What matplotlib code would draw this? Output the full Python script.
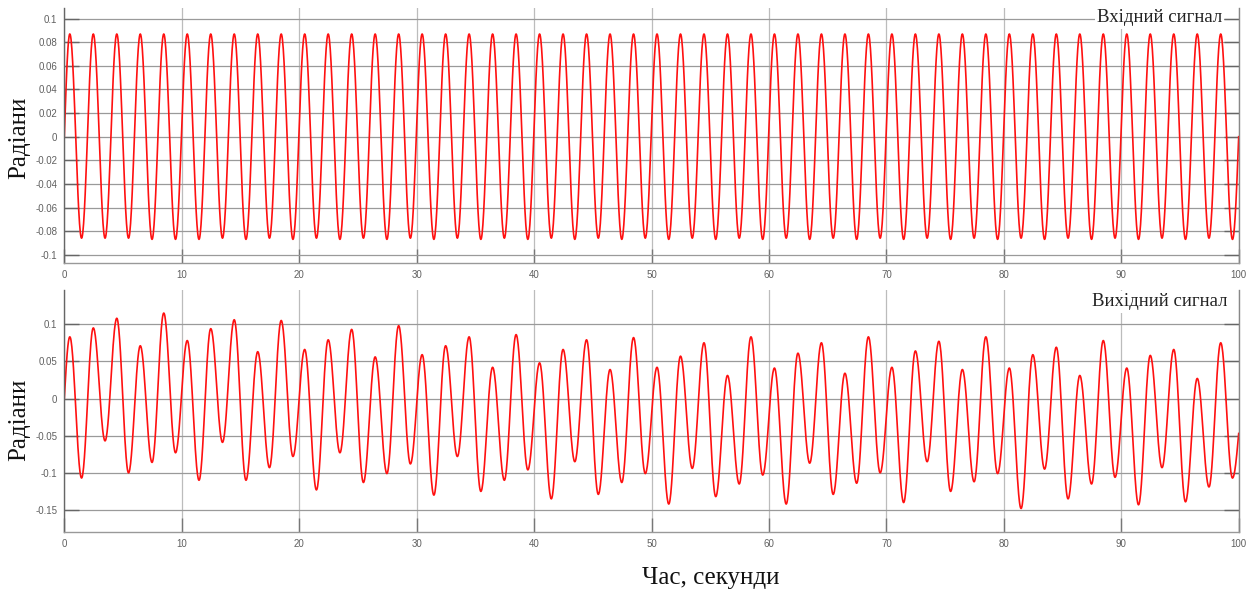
import numpy as np
import matplotlib
matplotlib.use("Agg")
import matplotlib.pyplot as plt

# ---------------- data ----------------
t_start, t_stop = 0.0, 100.0
# one extremum every half period (period 2 s), first one near 0.47 s
ext_times = np.arange(100) + 0.47

# input signal ("Вхідний сигнал"): alternating peak / trough values
top_peaks = [0.087, 0.087, 0.087, 0.087, 0.087, 0.087, 0.087, 0.087, 0.087, 0.087,
             0.087, 0.087, 0.087, 0.087, 0.087, 0.087, 0.087, 0.087, 0.087, 0.087,
             0.087, 0.087, 0.087, 0.087, 0.087, 0.087, 0.087, 0.087, 0.087, 0.087,
             0.087, 0.087, 0.087, 0.087, 0.087, 0.087, 0.087, 0.087, 0.087, 0.087,
             0.087, 0.087, 0.087, 0.087, 0.087, 0.087, 0.087, 0.087, 0.087, 0.087]
top_troughs = [-0.086, -0.086, -0.086, -0.087, -0.087, -0.087, -0.086, -0.087, -0.086, -0.087,
               -0.086, -0.087, -0.086, -0.087, -0.086, -0.087, -0.086, -0.087, -0.086, -0.087,
               -0.086, -0.087, -0.086, -0.087, -0.086, -0.087, -0.086, -0.087, -0.086, -0.087,
               -0.086, -0.087, -0.086, -0.087, -0.086, -0.087, -0.086, -0.087, -0.086, -0.087,
               -0.086, -0.087, -0.086, -0.087, -0.086, -0.087, -0.086, -0.087, -0.086, -0.087]
top_start, top_end = 0.0, 0.0

# output signal ("Вихідний сигнал"): successive extrema
bottom_extrema = [
    0.083, -0.107, 0.095, -0.057, 0.108, -0.100, 0.071, -0.086, 0.115, -0.073,
    0.078, -0.110, 0.094, -0.059, 0.106, -0.110, 0.063, -0.093, 0.105, -0.078,
    0.066, -0.123, 0.079, -0.073, 0.093, -0.113, 0.056, -0.101, 0.098, -0.088,
    0.059, -0.130, 0.071, -0.078, 0.083, -0.125, 0.042, -0.110, 0.086, -0.096,
    0.048, -0.135, 0.066, -0.085, 0.079, -0.129, 0.039, -0.113, 0.082, -0.101,
    0.042, -0.142, 0.057, -0.094, 0.075, -0.132, 0.031, -0.115, 0.083, -0.103,
    0.041, -0.142, 0.061, -0.087, 0.075, -0.129, 0.034, -0.114, 0.083, -0.100,
    0.042, -0.140, 0.064, -0.085, 0.077, -0.125, 0.039, -0.112, 0.083, -0.101,
    0.041, -0.148, 0.059, -0.095, 0.069, -0.135, 0.031, -0.115, 0.078, -0.106,
    0.041, -0.143, 0.058, -0.093, 0.066, -0.139, 0.027, -0.119, 0.075, -0.107]
bottom_start, bottom_end = 0.0, -0.047

x_ticks = [0, 10, 20, 30, 40, 50, 60, 70, 80, 90, 100]
top_yticks = [-0.1, -0.08, -0.06, -0.04, -0.02, 0, 0.02, 0.04, 0.06, 0.08, 0.1]
top_yticklabels = ["-0.1", "-0.08", "-0.06", "-0.04", "-0.02", "0",
                   "0.02", "0.04", "0.06", "0.08", "0.1"]
bottom_yticks = [-0.15, -0.1, -0.05, 0, 0.05, 0.1]
bottom_yticklabels = ["-0.15", "-0.1", "-0.05", "0", "0.05", "0.1"]

top_title = "Вхідний сигнал"
bottom_title = "Вихідний сигнал"
y_label = "Радіани"
x_label = "Час, секунди"


# ---------------- smooth curve through the extrema ----------------
def wave(times, values, v0, v1, t0, t1, n=30):
    ts, vs = [], []
    s = np.linspace(0, 1, n)
    ts.append(t0 + (times[0] - t0) * s)
    vs.append(v0 + (values[0] - v0) * np.sin(np.pi / 2 * s))
    s = np.linspace(0, 1, n)[1:]
    for i in range(len(times) - 1):
        ts.append(times[i] + (times[i + 1] - times[i]) * s)
        vs.append(values[i] + (values[i + 1] - values[i]) * (1 - np.cos(np.pi * s)) / 2)
    ts.append(times[-1] + (t1 - times[-1]) * s)
    vs.append(values[-1] + (v1 - values[-1]) * (1 - np.cos(np.pi / 2 * s)))
    return np.concatenate(ts), np.concatenate(vs)


top_vals = []
for p, q in zip(top_peaks, top_troughs):
    top_vals += [p, q]

tt, yt = wave(ext_times, top_vals, top_start, top_end, t_start, t_stop)
tb, yb = wave(ext_times, bottom_extrema, bottom_start, bottom_end, t_start, t_stop)

# ---------------- figure ----------------
W, H = 1256, 595
fig = plt.figure(figsize=(W / 100, H / 100), dpi=100)

serif = ["Liberation Serif", "DejaVu Serif"]
tickfont = "Liberation Sans"


def frac(x0, y0, x1, y1):
    return [x0 / W, 1 - y1 / H, (x1 - x0) / W, (y1 - y0) / H]


ax1 = fig.add_axes(frac(64.3, 8, 1238.7, 263))
ax2 = fig.add_axes(frac(64.3, 290, 1238.7, 532.3))


def style(ax, yticks, ylabels, ylim):
    ax.set_xlim(0, 100)
    ax.set_ylim(*ylim)
    ax.set_xticks(x_ticks)
    ax.set_xticklabels([str(v) for v in x_ticks])
    ax.set_yticks(yticks)
    ax.set_yticklabels(ylabels)
    ax.yaxis.grid(True, color="#9a9a9a", lw=0.9)
    ax.xaxis.grid(True, color="#bcbcbc", lw=0.9)
    ax.set_axisbelow(True)
    ax.tick_params(axis="y", direction="in", length=11, width=1.0, color="#666666",
                   left=True, right=True, labelsize=7, labelcolor="#606060", pad=5)
    ax.tick_params(axis="x", direction="in", length=10, width=1.0, color="#777777",
                   bottom=True, top=False, labelsize=7, labelcolor="#606060", pad=5)
    for lab in ax.get_xticklabels() + ax.get_yticklabels():
        lab.set_fontfamily(tickfont)
    ax.spines["top"].set_visible(False)
    ax.spines["left"].set_color("#666666")
    ax.spines["right"].set_color("#888888")
    ax.spines["bottom"].set_color("#999999")
    for sp in ax.spines.values():
        sp.set_linewidth(1.0)


style(ax1, top_yticks, top_yticklabels, (-0.107, 0.109))
style(ax2, bottom_yticks, bottom_yticklabels, (-0.18, 0.146))

ax1.plot(tt, yt, color="#ff1010", lw=1.2)
ax2.plot(tb, yb, color="#ff1010", lw=1.2)

ax1.text(1222 / W, 1 - 18 / H, top_title, transform=fig.transFigure, ha="right",
         va="center", fontsize=13.5, family=serif, color="#222222",
         bbox=dict(facecolor="white", edgecolor="none", pad=1.5))
ax2.text(1228 / W, 1 - 302 / H, bottom_title, transform=fig.transFigure, ha="right",
         va="center", fontsize=13.5, family=serif, color="#222222",
         bbox=dict(facecolor="white", edgecolor="none", pad=1.5))

fig.text(19 / W, 1 - 138 / H, y_label, rotation=90, ha="center", va="center",
         fontsize=18, family=serif, color="#111111")
fig.text(19 / W, 1 - 420 / H, y_label, rotation=90, ha="center", va="center",
         fontsize=18, family=serif, color="#111111")
fig.text(711 / W, 1 - 578 / H, x_label, ha="center", va="center",
         fontsize=18, family=serif, color="#111111")

fig.savefig("out.png", dpi=100)
